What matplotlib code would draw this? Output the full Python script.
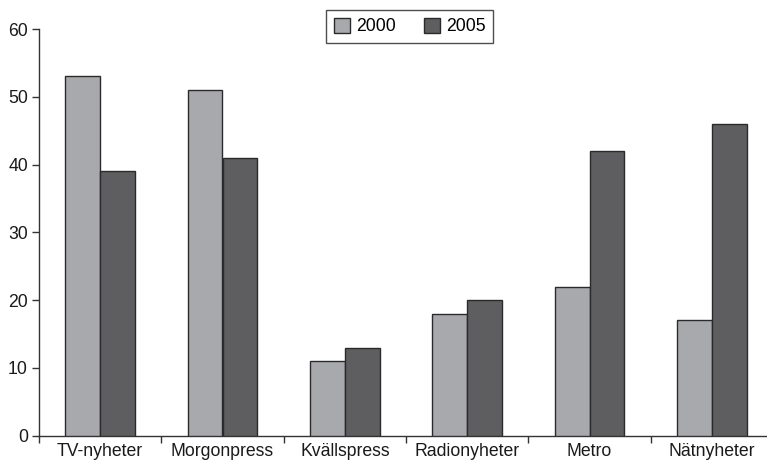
import numpy as np
import matplotlib.pyplot as plt
from matplotlib.ticker import FixedLocator

plt.rcParams['font.family'] = ['Liberation Sans', 'DejaVu Sans']

categories = ['TV-nyheter', 'Morgonpress', 'Kvällspress', 'Radionyheter', 'Metro', 'Nätnyheter']
values_2000 = [53, 51, 11, 18, 22, 17]
values_2005 = [39, 41, 13, 20, 42, 46]
series_labels = ['2000', '2005']

fig = plt.figure(figsize=(7.67, 4.61), dpi=100)
ax = fig.add_axes([39 / 767, 25.3 / 461, 734 / 767, 406.7 / 461])

x = np.arange(len(categories))
w = 0.286
ax.bar(x - w / 2, values_2000, w, color='#a8a9ad', edgecolor='#2a2a2a', linewidth=1.0,
       label=series_labels[0], zorder=3)
ax.bar(x + w / 2, values_2005, w, color='#5e5e61', edgecolor='#2a2a2a', linewidth=1.0,
       label=series_labels[1], zorder=3)

ax.set_xlim(-0.5, len(categories) - 0.5)
ax.set_ylim(0, 60)
ax.set_yticks(range(0, 61, 10))
ax.set_xticks(x)
ax.set_xticklabels(categories)
ax.xaxis.set_minor_locator(FixedLocator(np.arange(-0.5, len(categories), 1.0)))
# labels sit just under the axis (reference crops them a little at the bottom)
ax.tick_params(axis='x', which='major', length=0, pad=5, labelsize=12.7, colors='#1a1a1a')
ax.tick_params(axis='x', which='minor', length=5, width=1, color='#333333')
ax.tick_params(axis='y', length=5, width=1, pad=3, labelsize=12.7, colors='#1a1a1a')
ax.tick_params(axis='y', color='#333333')

for s in ['top', 'right']:
    ax.spines[s].set_visible(False)
for s in ['left', 'bottom']:
    ax.spines[s].set_color('#333333')
    ax.spines[s].set_linewidth(1.0)

leg = fig.legend(loc='upper left', bbox_to_anchor=(325.7 / 767, 1 - 10 / 461), ncol=2,
                 fontsize=12.7, frameon=True, fancybox=False, borderaxespad=0,
                 handlelength=0.9, handleheight=0.9, handletextpad=0.35,
                 columnspacing=1.6, borderpad=0.45)
leg.get_frame().set_edgecolor('#222222')
leg.get_frame().set_linewidth(1.0)

fig.savefig('out.png', dpi=100)
